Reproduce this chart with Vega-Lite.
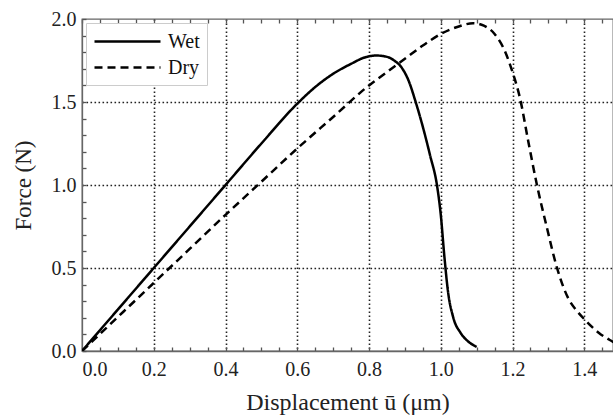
{
  "$schema": "https://vega.github.io/schema/vega-lite/v6.json",
  "width": 531,
  "height": 332,
  "autosize": "none",
  "padding": {"left": 82, "top": 19, "right": 0, "bottom": 67},
  "config": {
    "font": "Liberation Serif",
    "view": {"stroke": "#666", "strokeWidth": 1.3},
    "axis": {
      "labelFont": "Liberation Serif",
      "titleFont": "Liberation Serif",
      "labelColor": "#222",
      "titleColor": "#222",
      "labelFontSize": 20,
      "titleFontSize": 24,
      "titleFontWeight": "normal",
      "labelOverlap": false,
      "domainColor": "#666",
      "domainWidth": 1.3,
      "tickColor": "#555",
      "tickWidth": 1.3,
      "gridColor": "#222",
      "gridDash": [1.6, 2.4],
      "gridWidth": 1.6
    }
  },
  "data": {
    "values": [
      {"s": "Wet", "u": 0.0, "F": 0.0},
      {"s": "Wet", "u": 0.1, "F": 0.25},
      {"s": "Wet", "u": 0.2, "F": 0.5},
      {"s": "Wet", "u": 0.3, "F": 0.75},
      {"s": "Wet", "u": 0.4, "F": 1.0},
      {"s": "Wet", "u": 0.5, "F": 1.25},
      {"s": "Wet", "u": 0.6, "F": 1.49},
      {"s": "Wet", "u": 0.65, "F": 1.59},
      {"s": "Wet", "u": 0.7, "F": 1.67},
      {"s": "Wet", "u": 0.75, "F": 1.73},
      {"s": "Wet", "u": 0.79, "F": 1.77},
      {"s": "Wet", "u": 0.82, "F": 1.78},
      {"s": "Wet", "u": 0.85, "F": 1.772},
      {"s": "Wet", "u": 0.87, "F": 1.75},
      {"s": "Wet", "u": 0.89, "F": 1.71},
      {"s": "Wet", "u": 0.91, "F": 1.63},
      {"s": "Wet", "u": 0.93, "F": 1.5},
      {"s": "Wet", "u": 0.95, "F": 1.35},
      {"s": "Wet", "u": 0.97, "F": 1.18},
      {"s": "Wet", "u": 0.99, "F": 0.99},
      {"s": "Wet", "u": 1.0, "F": 0.82},
      {"s": "Wet", "u": 1.01, "F": 0.57},
      {"s": "Wet", "u": 1.02, "F": 0.36},
      {"s": "Wet", "u": 1.035, "F": 0.2},
      {"s": "Wet", "u": 1.055, "F": 0.11},
      {"s": "Wet", "u": 1.075, "F": 0.06},
      {"s": "Wet", "u": 1.1, "F": 0.025},
      {"s": "Dry", "u": 0.0, "F": 0.0},
      {"s": "Dry", "u": 0.1, "F": 0.205},
      {"s": "Dry", "u": 0.2, "F": 0.41},
      {"s": "Dry", "u": 0.3, "F": 0.615},
      {"s": "Dry", "u": 0.4, "F": 0.82},
      {"s": "Dry", "u": 0.5, "F": 1.02},
      {"s": "Dry", "u": 0.6, "F": 1.22},
      {"s": "Dry", "u": 0.7, "F": 1.41},
      {"s": "Dry", "u": 0.8, "F": 1.6},
      {"s": "Dry", "u": 0.85, "F": 1.68},
      {"s": "Dry", "u": 0.9, "F": 1.76},
      {"s": "Dry", "u": 0.95, "F": 1.84},
      {"s": "Dry", "u": 1.0, "F": 1.91},
      {"s": "Dry", "u": 1.05, "F": 1.955},
      {"s": "Dry", "u": 1.09, "F": 1.975},
      {"s": "Dry", "u": 1.12, "F": 1.96},
      {"s": "Dry", "u": 1.15, "F": 1.91},
      {"s": "Dry", "u": 1.18, "F": 1.8},
      {"s": "Dry", "u": 1.2, "F": 1.68},
      {"s": "Dry", "u": 1.22, "F": 1.53},
      {"s": "Dry", "u": 1.245, "F": 1.25},
      {"s": "Dry", "u": 1.268, "F": 1.0},
      {"s": "Dry", "u": 1.295, "F": 0.75},
      {"s": "Dry", "u": 1.324, "F": 0.5},
      {"s": "Dry", "u": 1.357, "F": 0.31},
      {"s": "Dry", "u": 1.38, "F": 0.24},
      {"s": "Dry", "u": 1.403, "F": 0.185},
      {"s": "Dry", "u": 1.44, "F": 0.11},
      {"s": "Dry", "u": 1.48, "F": 0.055},
      {"s": "Dry", "u": 1.5, "F": 0.03}
    ]
  },
  "layer": [
    {
      "mark": {"type": "line", "color": "black", "strokeWidth": 2.5, "clip": true, "interpolate": "monotone"},
      "encoding": {
        "x": {
          "field": "u", "type": "quantitative",
          "scale": {"domain": [0, 1.48], "nice": false, "zero": false},
          "axis": {
            "orient": "bottom",
            "title": "Displacement ū (μm)",
            "titlePadding": 11,
            "values": [0,0.05,0.1,0.15,0.2,0.25,0.3,0.35,0.4,0.45,0.5,0.55,0.6,0.65,0.7,0.75,0.8,0.85,0.9,0.95,1.0,1.05,1.1,1.15,1.2,1.25,1.3,1.35,1.4,1.45],
            "labelExpr": "abs(datum.value*5 - round(datum.value*5)) < 0.001 ? format(datum.value, '.1f') : ''",
            "labelPadding": 12,
            "tickSize": -4,
            "grid": true,
            "gridOpacity": {"condition": {"test": "abs(datum.value*5 - round(datum.value*5)) < 0.001 && datum.value > 0.01", "value": 1}, "value": 0}
          }
        },
        "y": {
          "field": "F", "type": "quantitative",
          "scale": {"domain": [0, 2], "nice": false},
          "axis": {
            "orient": "left",
            "title": "Force (N)",
            "titleFontSize": 23,
            "titlePadding": 16,
            "values": [0,0.1,0.2,0.3,0.4,0.5,0.6,0.7,0.8,0.9,1.0,1.1,1.2,1.3,1.4,1.5,1.6,1.7,1.8,1.9,2.0],
            "labelExpr": "abs(datum.value*2 - round(datum.value*2)) < 0.001 ? format(datum.value, '.1f') : ''",
            "labelPadding": 10,
            "tickSize": -4,
            "grid": true,
            "gridOpacity": {"condition": {"test": "abs(datum.value*2 - round(datum.value*2)) < 0.001 && datum.value > 0.01 && datum.value < 1.99", "value": 1}, "value": 0}
          }
        },
        "strokeDash": {
          "field": "s", "type": "nominal",
          "scale": {"domain": ["Wet", "Dry"], "range": [[1, 0], [8, 5]]},
          "legend": {
            "title": null,
            "orient": "top-left",
            "offset": 4,
            "symbolType": "M-1,0H5.6",
            "symbolSize": 400,
            "symbolStrokeWidth": 2.5,
            "symbolStrokeColor": "black",
            "symbolFillColor": "transparent",
            "labelOffset": 52,
            "labelFont": "Liberation Serif",
            "labelFontSize": 20,
            "labelColor": "#111",
            "strokeColor": "#ccc",
            "fillColor": "white",
            "padding": 7,
            "rowPadding": 4
          }
        }
      }
    },
    {
      "mark": {"type": "line", "opacity": 0, "clip": true},
      "encoding": {
        "x": {
          "field": "u", "type": "quantitative",
          "axis": {
            "orient": "top",
            "title": null,
            "labels": false,
            "grid": false,
            "domain": false,
            "values": [0,0.05,0.1,0.15,0.2,0.25,0.3,0.35,0.4,0.45,0.5,0.55,0.6,0.65,0.7,0.75,0.8,0.85,0.9,0.95,1.0,1.05,1.1,1.15,1.2,1.25,1.3,1.35,1.4,1.45],
            "tickSize": -4
          }
        },
        "y": {
          "field": "F", "type": "quantitative",
          "axis": {
            "orient": "left",
            "title": "Force (N)",
            "titleFontSize": 23,
            "titlePadding": 16,
            "values": [0,0.1,0.2,0.3,0.4,0.5,0.6,0.7,0.8,0.9,1.0,1.1,1.2,1.3,1.4,1.5,1.6,1.7,1.8,1.9,2.0],
            "labelExpr": "abs(datum.value*2 - round(datum.value*2)) < 0.001 ? format(datum.value, '.1f') : ''",
            "labelPadding": 10,
            "tickSize": -4,
            "grid": true,
            "gridOpacity": {"condition": {"test": "abs(datum.value*2 - round(datum.value*2)) < 0.001 && datum.value > 0.01 && datum.value < 1.99", "value": 1}, "value": 0}
          }
        },
        "detail": {"field": "s", "type": "nominal"}
      }
    }
  ]
}
